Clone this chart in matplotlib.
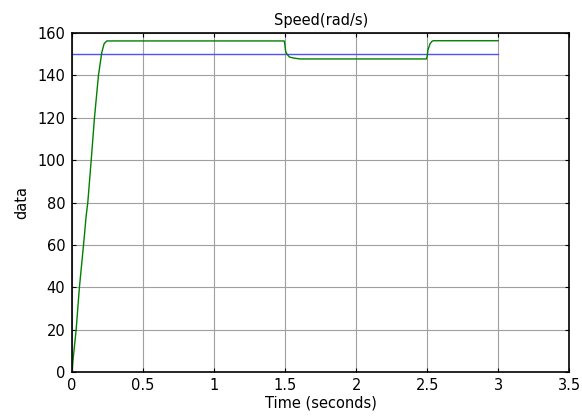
import matplotlib
matplotlib.use("Agg")
import matplotlib.pyplot as plt

plt.rcParams['font.family'] = ['DejaVu Sans']

# reference speed (blue)
ref_t = [0.0, 3.0]
ref_speed = [150, 150]

t = [0.0, 0.005, 0.028, 0.051, 0.08, 0.099, 0.11, 0.134, 0.157, 0.185, 0.209, 0.225, 0.244,
     1.493, 1.497, 1.503, 1.51, 1.53, 1.56, 1.606,
     2.495, 2.5, 2.505, 2.52, 2.535, 2.545, 3.0]
speed = [0, 5, 20, 40, 60, 74, 80, 100, 120, 140, 151, 155, 156.3,
         156.3, 155, 151.5, 150.3, 148.7, 148.2, 147.8,
         147.8, 149, 151.9, 155, 156.2, 156.4, 156.4]

fig = plt.figure(figsize=(5.82, 4.19), dpi=100)
ax = fig.add_axes([0.124, 0.112, 0.854, 0.809])

ax.plot(ref_t, ref_speed, color='#5050ff', lw=1.0)
ax.plot(t, speed, color='#008000', lw=1.0)

ax.set_xlim(0, 3.5)
ax.set_ylim(0, 160)
ax.set_xticks([0, 0.5, 1, 1.5, 2, 2.5, 3, 3.5])
ax.set_xticklabels(['0', '0.5', '1', '1.5', '2', '2.5', '3', '3.5'])
ax.set_yticks(range(0, 161, 20))
ax.tick_params(direction='in', top=True, right=True, labelsize=10.5, length=3)
ax.tick_params(axis='x', pad=4)
ax.tick_params(axis='y', pad=5)
ax.grid(True, color='#a0a0a0', lw=0.8)
for s in ax.spines.values():
    s.set_linewidth(1.2)

ax.set_title("Speed(rad/s)", fontsize=10.5, pad=6)
ax.set_xlabel("Time (seconds)", fontsize=10.5, labelpad=2)
ax.set_ylabel("data", fontsize=10.5, labelpad=6)

fig.savefig("out.png", dpi=100)
